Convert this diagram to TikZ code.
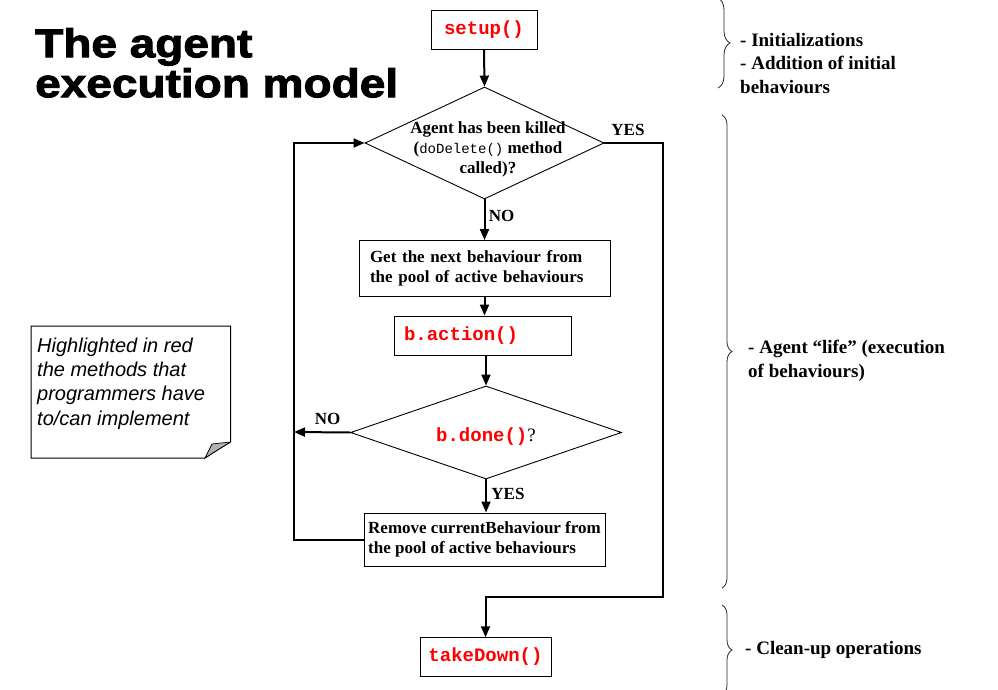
\documentclass[tikz,border=0pt]{standalone}
\usepackage{fontspec}
\setmainfont{Liberation Serif}
\newfontfamily\monofont{Liberation Mono}
\newfontfamily\notefont{Liberation Sans}
\newfontfamily\titlefont[FakeStretch=1.15,FakeBold=2.5]{Liberation Sans}
\usetikzlibrary{shapes.geometric,arrows.meta,decorations.pathreplacing,calc}
\definecolor{codered}{RGB}{255,0,0}
\newcommand{\codefont}{\fontsize{19}{22}\monofont\bfseries\color{codered}}
\begin{document}
\begin{tikzpicture}[x=1pt,y=-1pt,
  box/.style={draw=black, line width=1pt, inner sep=0pt, fill=white},
  decision/.style={draw=black, diamond, line width=0.9pt, inner sep=0pt},
  conn/.style={line width=2pt, -{Triangle[length=11pt,width=9pt]}},
  lbl/.style={font=\fontsize{17}{19.4}\selectfont\bfseries, inner sep=0pt},
  flowtext/.style={font=\fontsize{17}{19.6}\selectfont\bfseries},
  code/.style={font=\codefont},
  bracest/.style={decorate, decoration={brace, amplitude=10pt}, line width=0.8pt, draw=black!85},
  side/.style={font=\fontsize{19}{23.5}\selectfont\bfseries, align=left, inner sep=0pt, anchor=north west},
  notetext/.style={font=\fontsize{20}{24.4}\notefont\itshape, align=left, inner sep=0pt, anchor=north west},
  titlest/.style={font=\fontsize{40}{40}\titlefont\bfseries, align=left, inner sep=0pt, anchor=north west},
]
\useasboundingbox (0,0) rectangle (998,690);

% title
\node[titlest] (title) at (35,28) {The agent\\execution model};

% flow nodes
\node[box, code, minimum width=106pt, minimum height=39pt] (setup) at (484,29.8) {setup()};
\node[decision, minimum width=239pt, minimum height=112pt] (d1) at (484.5,143) {};
\node[flowtext, align=center, inner sep=0pt] (d1text) at (488,149.5)
  {Agent has been killed\\({\fontsize{14}{16}\monofont\mdseries doDelete()} method\\called)?};
\node[box, flowtext, minimum width=251pt, minimum height=55.5pt, text width=229pt,
  inner xsep=11pt, align=left] (next) at (484.5,268.3)
  {Get the next behaviour from\\the pool of active behaviours};
\node[box, code, minimum width=177pt, minimum height=39pt, text width=157pt,
  inner xsep=10pt, align=left] (action) at (482.5,335.5) {b.action()};
\node[decision, minimum width=271pt, minimum height=93pt] (d2) at (486,432.5) {};
\node[inner sep=0pt] (d2text) at (486,437)
  {{\codefont b.done()}{\fontsize{19}{22}\selectfont ?}};
\node[box, flowtext, minimum width=241pt, minimum height=53pt, align=left] (remove) at (484.5,539.5)
  {Remove currentBehaviour from\\the pool of active behaviours};
\node[box, code, minimum width=131pt, minimum height=38.5pt] (takedown) at (485.5,657) {takeDown()};

% helper coordinates
\coordinate (loopx) at (294,432);
\coordinate (exitc) at (663,597);

% connectors
\draw[conn] (setup.south) -- (d1.north);
\draw[conn] (d1.south) -- (next.north);
\draw[conn] (next.south) -- (next.south |- action.north);
\draw[conn] (d2.north |- action.south) -- (d2.north);
\draw[conn] (d2.south) -- (d2.south |- remove.north);
\draw[conn] (d2.west) -- (loopx);
\draw[conn] (remove.west) -- (remove.west -| loopx) |- (d1.west);
\draw[conn] (d1.east) -| (exitc) -| (takedown.north);

% labels
\node[lbl] (yes1) at (628,130) {YES};
\node[lbl] (no1) at (501.5,216) {NO};
\node[lbl] (no2) at (327.5,419) {NO};
\node[lbl] (yes2) at (508,494) {YES};

% note
\draw[line width=1pt, fill=white] (31,326) -- (230.5,326) -- (230.5,442)
  .. controls (219,449) .. (205,458) -- (31,458) -- cycle;
\filldraw[fill=black!30, line width=0.7pt] (230.5,442) .. controls (222,443) .. (212,444)
  .. controls (209,450) .. (205,458) .. controls (219,449) .. (230.5,442);
\node[notetext] (note) at (37,337.5) {Highlighted in red\\the methods that\\programmers have\\to/can implement};

% braces
\draw[bracest, decoration={brace, amplitude=12pt}] (718,-2) -- (718,88);
\draw[bracest] (722,115) -- (722,588);
\draw[bracest] (722,605) -- (722,695);

% side texts
\node[side] (init) at (740,33) {- Initializations\\- Addition of initial\\behaviours};
\node[side] (life) at (748,340) {- Agent “life” (execution\\of behaviours)};
\node[font=\fontsize{19}{23.5}\selectfont\bfseries, inner sep=0pt, anchor=base west] (clean) at (745,654) {- Clean-up operations};
\end{tikzpicture}
\end{document}
